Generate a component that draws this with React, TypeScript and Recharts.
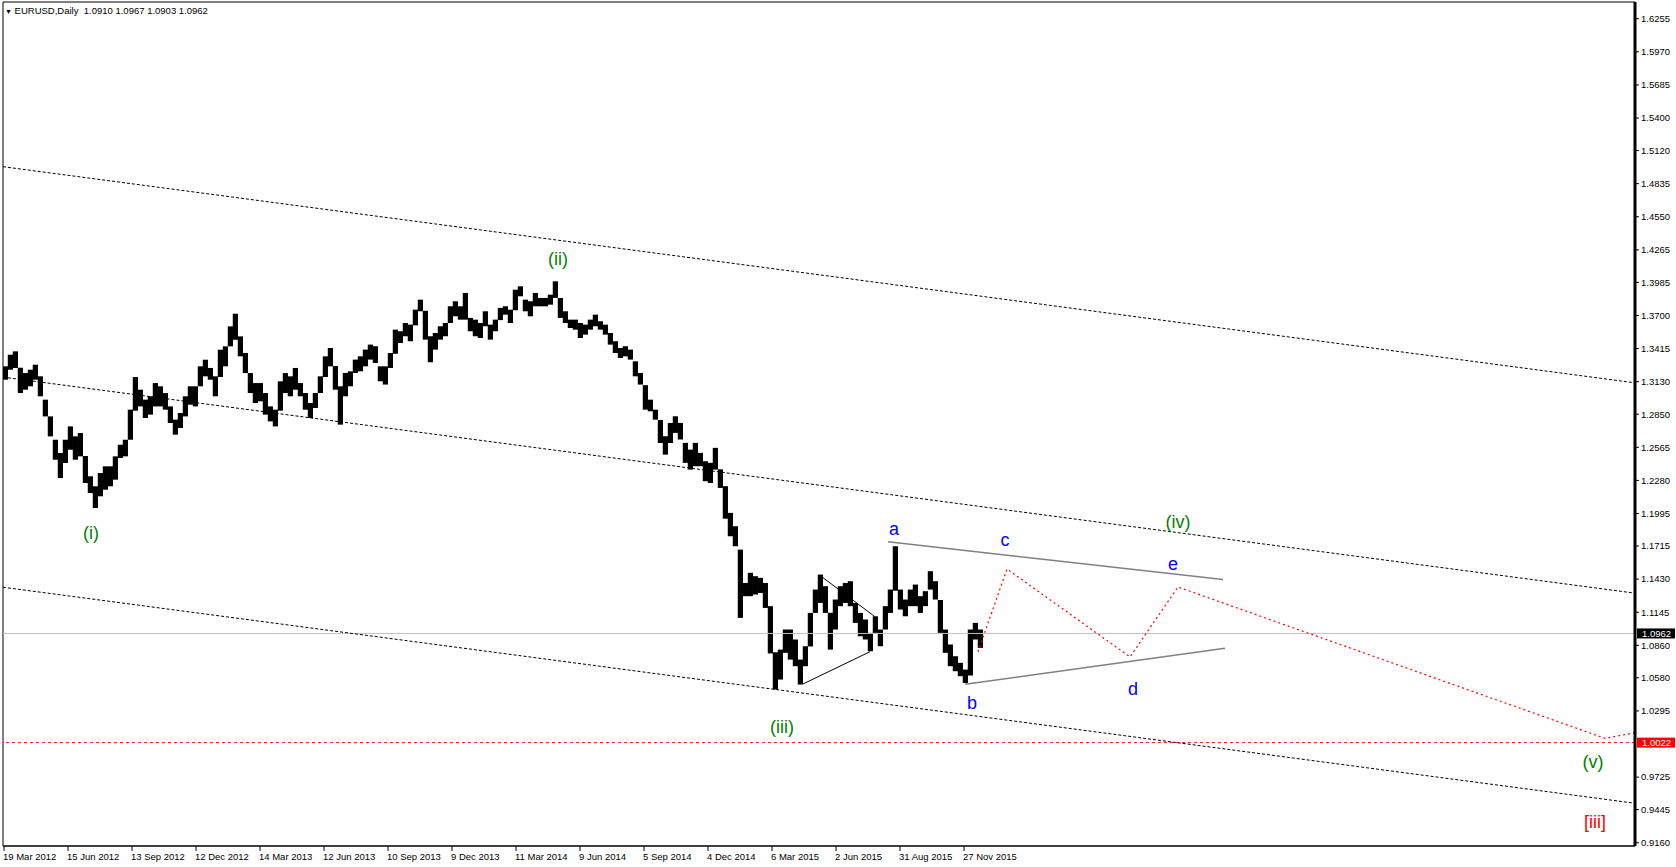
import React from 'react';
import { ComposedChart, Bar, Line, XAxis, YAxis, ReferenceLine, ReferenceDot, ReferenceArea } from 'recharts';

const weekHigh = [
  1.3262, 1.3362, 1.3391, 1.3250, 1.3204, 1.3233, 1.3276, 1.3176, 1.2975, 1.2831,
  1.2630, 1.2516, 1.2630, 1.2745, 1.2659, 1.2688, 1.2490, 1.2315, 1.2229, 1.2343,
  1.2401, 1.2401, 1.2487, 1.2587, 1.2630, 1.2889, 1.3170, 1.3061, 1.2975, 1.3004,
  1.3118, 1.3090, 1.3032, 1.2917, 1.2803, 1.2860, 1.3004, 1.3090, 1.3090, 1.3262,
  1.3319, 1.3248, 1.3176, 1.3405, 1.3434, 1.3606, 1.3715, 1.3520, 1.3377, 1.3204,
  1.3118, 1.3118, 1.3032, 1.2917, 1.2889, 1.3133, 1.3204, 1.3176, 1.3248, 1.3118,
  1.3032, 1.2946, 1.3032, 1.3176, 1.3348, 1.3420, 1.3265, 1.3090, 1.3205, 1.3219,
  1.3320, 1.3348, 1.3406, 1.3449, 1.3435, 1.3262, 1.3262, 1.3377, 1.3578, 1.3564,
  1.3635, 1.3621, 1.3750, 1.3836, 1.3740, 1.3521, 1.3549, 1.3607, 1.3635, 1.3779,
  1.3822, 1.3779, 1.3894, 1.3679, 1.3664, 1.3635, 1.3736, 1.3621, 1.3664, 1.3765,
  1.3779, 1.3750, 1.3922, 1.3951, 1.3836, 1.3822, 1.3894, 1.3851, 1.3851, 1.3879,
  1.3994, 1.3850, 1.3736, 1.3664, 1.3664, 1.3635, 1.3621, 1.3664, 1.3707, 1.3650,
  1.3621, 1.3549, 1.3478, 1.3420, 1.3435, 1.3406, 1.3305, 1.3205, 1.3100, 1.2975,
  1.2889, 1.2800, 1.2660, 1.2774, 1.2832, 1.2775, 1.2603, 1.2545, 1.2603, 1.2517,
  1.2445, 1.2431, 1.2560, 1.2375, 1.2230, 1.2000, 1.1885, 1.1684, 1.1397, 1.1484,
  1.1455, 1.1441, 1.1397, 1.1197, 1.0800, 1.0823, 1.0996, 1.0996, 1.0910, 1.0737,
  1.0852, 1.1139, 1.1340, 1.1469, 1.1369, 1.1140, 1.1254, 1.1369, 1.1397, 1.1412,
  1.1225, 1.1139, 1.1082, 1.0967, 1.1110, 1.0996, 1.1197, 1.1340, 1.1713, 1.1340,
  1.1254, 1.1340, 1.1383, 1.1283, 1.1326, 1.1498, 1.1412, 1.1250, 1.0996, 1.0867,
  1.0766, 1.0709, 1.0651, 1.0996, 1.1053, 1.0996,
];

const weekLow = [
  1.3147, 1.3233, 1.3248, 1.3032, 1.3061, 1.3090, 1.3147, 1.3004, 1.2831, 1.2659,
  1.2458, 1.2300, 1.2430, 1.2544, 1.2458, 1.2487, 1.2257, 1.2171, 1.2042, 1.2143,
  1.2200, 1.2229, 1.2286, 1.2473, 1.2487, 1.2630, 1.2880, 1.2917, 1.2817, 1.2846,
  1.2917, 1.2917, 1.2889, 1.2774, 1.2674, 1.2731, 1.2831, 1.2932, 1.2917, 1.3090,
  1.3176, 1.3147, 1.3004, 1.3170, 1.3262, 1.3434, 1.3491, 1.3348, 1.3204, 1.3032,
  1.2946, 1.2961, 1.2846, 1.2788, 1.2745, 1.2880, 1.3032, 1.3004, 1.3061, 1.3004,
  1.2889, 1.2817, 1.2903, 1.3032, 1.3170, 1.3262, 1.3061, 1.2760, 1.3004, 1.3090,
  1.3205, 1.3219, 1.3262, 1.3320, 1.3291, 1.3133, 1.3105, 1.3248, 1.3370, 1.3463,
  1.3521, 1.3478, 1.3615, 1.3736, 1.3492, 1.3297, 1.3406, 1.3492, 1.3521, 1.3635,
  1.3693, 1.3664, 1.3664, 1.3564, 1.3521, 1.3506, 1.3607, 1.3492, 1.3564, 1.3660,
  1.3707, 1.3635, 1.3745, 1.3865, 1.3736, 1.3693, 1.3779, 1.3779, 1.3779, 1.3793,
  1.3851, 1.3679, 1.3635, 1.3592, 1.3578, 1.3506, 1.3535, 1.3578, 1.3607, 1.3578,
  1.3535, 1.3449, 1.3377, 1.3334, 1.3348, 1.3320, 1.3176, 1.3105, 1.2889, 1.2875,
  1.2803, 1.2602, 1.2502, 1.2602, 1.2689, 1.2632, 1.2431, 1.2373, 1.2402, 1.2402,
  1.2273, 1.2258, 1.2373, 1.2215, 1.1950, 1.1799, 1.1713, 1.1096, 1.1283, 1.1283,
  1.1297, 1.1311, 1.1182, 1.0790, 1.0479, 1.0565, 1.0795, 1.0737, 1.0680, 1.0522,
  1.0680, 1.0850, 1.1139, 1.1225, 1.1139, 1.0823, 1.0996, 1.1197, 1.1225, 1.1197,
  1.1053, 1.0938, 1.0910, 1.0809, 1.0967, 1.0852, 1.0996, 1.1139, 1.1330, 1.1168,
  1.1110, 1.1197, 1.1197, 1.1139, 1.1197, 1.1340, 1.1254, 1.0967, 1.0795, 1.0680,
  1.0637, 1.0594, 1.0536, 1.0600, 1.0910, 1.0838,
];

const dateLabels = [
  '19 Mar 2012', '15 Jun 2012', '13 Sep 2012', '12 Dec 2012', '14 Mar 2013', '12 Jun 2013',
  '10 Sep 2013', '9 Dec 2013', '11 Mar 2014', '9 Jun 2014', '5 Sep 2014', '4 Dec 2014',
  '6 Mar 2015', '2 Jun 2015', '31 Aug 2015', '27 Nov 2015',
];
// trading-day index of each date label
const dateTickDays = [1, 65, 129, 193, 257, 321, 385, 449, 513, 577, 641, 705, 769, 833, 897, 961];

const priceTicks = [
  1.6255, 1.5970, 1.5685, 1.5400, 1.5120, 1.4835, 1.4550, 1.4265, 1.3985, 1.3700,
  1.3415, 1.3130, 1.2850, 1.2565, 1.2280, 1.1995, 1.1715, 1.1430, 1.1145, 1.0860,
  1.0580, 1.0295, 0.9725, 0.9445, 0.9160,
];

const lastPrice = 1.0962;
const targetPrice = 1.0022;
const titleOHLC = [1.0910, 1.0967, 1.0903, 1.0962];

// projected path c-d-e-(v)
const forecastDays = [975, 1004, 1127, 1175, 1602, 1632];
const forecastPrices = [1.0805, 1.1517, 1.0760, 1.1362, 1.0059, 1.0107];

// dotted channel lines: [day1, price1, day2, price2]
const channelLines = [
  [0, 1.4981, 1632, 1.3120],
  [0, 1.3169, 1632, 1.1309],
  [0, 1.1360, 1632, 0.9500],
];
// triangle (gray) and small wedge (black)
const triangleLines = [
  [885, 1.1752, 1220, 1.1426],
  [962, 1.0524, 1222, 1.0835],
];
const wedgeLines = [
  [820, 1.1442, 872, 1.1106],
  [800, 1.0527, 867, 1.0805],
];

const waveText = ['(i)', '(ii)', '(iii)', '(iv)', '(v)'];
const waveDays = [88, 555, 779, 1175, 1590];
const wavePrices = [1.1827, 1.4192, 1.0159, 1.1924, 0.9858];

const subText = ['a', 'b', 'c', 'd', 'e'];
const subDays = [891, 969, 1002, 1130, 1170];
const subPrices = [1.1866, 1.0366, 1.1766, 1.0489, 1.1565];

const degreeText = '[iii]';
const degreeDay = 1592;
const degreePrice = 0.9339;

const FONT = "'Liberation Sans', Arial, sans-serif";
const Y_MIN = 0.9132;
const Y_MAX = 1.6399;
const LAST_DAY = 1632;

const bars = weekHigh.map((h, i) => ({ day: i * 5 + 2.5, range: [weekLow[i], h] }));
const forecast = forecastDays.map((d, i) => ({ day: d, price: forecastPrices[i] }));

// one solid block per week, 5 trading days (5px) wide, centred on its day
const WeekBlock = (props: any) => {
  const { x, y, width, height } = props;
  if (![x, y, width, height].every((v) => Number.isFinite(v))) return null;
  const cx = x + width / 2;
  return <rect x={cx - 2.6} y={y} width={5.2} height={Math.max(height, 1)} fill="#000" />;
};

const DateTick = (props: any) => {
  const { x, y, payload } = props;
  const i = dateTickDays.indexOf(payload.value);
  return (
    <text x={x - 1} y={y} dy="0.71em" textAnchor="start" fontSize={9.5} fontFamily={FONT} fill="#000">
      {dateLabels[i]}
    </text>
  );
};

const PriceTick = (props: any) => {
  const { x, y, payload } = props;
  return (
    <text x={x} y={y} dy="0.35em" textAnchor="start" fontSize={9.5} fontFamily={FONT} fill="#000">
      {payload.value.toFixed(4)}
    </text>
  );
};

const PriceBox = (props: any) => {
  const { viewBox, text, bg } = props;
  const x = viewBox.x + viewBox.width + 2;
  const y = viewBox.y;
  return (
    <g>
      <rect x={x} y={y - 5} width={38} height={10} fill={bg} />
      <text x={x + 5} y={y} dy="0.35em" fontSize={9.5} fontFamily={FONT} fill="#fff">{text}</text>
    </g>
  );
};

export default function App() {
  return (
    <div style={{ position: 'absolute', left: 0, top: 0, width: 1676, height: 867, background: '#fff' }}>
      <ComposedChart width={1676} height={867} data={bars} margin={{ top: 2, right: 0, bottom: 0, left: 3 }}>
        <XAxis
          type="number"
          dataKey="day"
          domain={[0, LAST_DAY]}
          allowDataOverflow
          ticks={dateTickDays}
          interval={0}
          tick={<DateTick />}
          tickSize={5}
          tickLine={{ stroke: '#000' }}
          axisLine={{ stroke: '#000' }}
          height={21}
        />
        <YAxis
          orientation="right"
          type="number"
          domain={[Y_MIN, Y_MAX]}
          allowDataOverflow
          ticks={priceTicks}
          interval={0}
          tick={<PriceTick />}
          tickSize={4}
          tickMargin={2}
          tickLine={{ stroke: '#000' }}
          axisLine={{ stroke: '#000', strokeWidth: 3 }}
          width={41}
        />
        <ReferenceArea x1={0} x2={LAST_DAY} y1={Y_MIN} y2={Y_MAX} fill="none" stroke="#000" strokeWidth={1} />
        <ReferenceLine y={lastPrice} stroke="#c0c0c0" label={<PriceBox text={lastPrice.toFixed(4)} bg="#000" />} />
        <ReferenceLine y={targetPrice} stroke="#ff0000" strokeDasharray="3 3" label={<PriceBox text={targetPrice.toFixed(4)} bg="#ff0000" />} />
        <Bar dataKey="range" fill="#000" barSize={5} shape={<WeekBlock />} isAnimationActive={false} />
        {channelLines.map((l, i) => (
          <ReferenceLine key={`ch${i}`} segment={[{ x: l[0], y: l[1] }, { x: l[2], y: l[3] }]} stroke="#000" strokeDasharray="3 2" />
        ))}
        {triangleLines.map((l, i) => (
          <ReferenceLine key={`tr${i}`} segment={[{ x: l[0], y: l[1] }, { x: l[2], y: l[3] }]} stroke="#808080" strokeWidth={1.5} />
        ))}
        {wedgeLines.map((l, i) => (
          <ReferenceLine key={`wd${i}`} segment={[{ x: l[0], y: l[1] }, { x: l[2], y: l[3] }]} stroke="#000" strokeWidth={1} />
        ))}
        <Line data={forecast} dataKey="price" type="linear" stroke="#ff0000" strokeWidth={1.2} strokeDasharray="2 3" dot={false} isAnimationActive={false} />
        {waveText.map((t, i) => (
          <ReferenceDot key={`w${i}`} x={waveDays[i]} y={wavePrices[i]} r={0} stroke="none" fill="none"
            label={{ value: t, position: 'center', fill: '#008000', fontSize: 18, fontFamily: FONT }} />
        ))}
        {subText.map((t, i) => (
          <ReferenceDot key={`s${i}`} x={subDays[i]} y={subPrices[i]} r={0} stroke="none" fill="none"
            label={{ value: t, position: 'center', fill: '#0000ff', fontSize: 18, fontFamily: FONT }} />
        ))}
        <ReferenceDot x={degreeDay} y={degreePrice} r={0} stroke="none" fill="none"
          label={{ value: degreeText, position: 'center', fill: '#ff0000', fontSize: 18, fontFamily: FONT }} />
      </ComposedChart>
      <div style={{ position: 'absolute', left: 5, top: 5, fontFamily: FONT, fontSize: 9.5, color: '#000', whiteSpace: 'pre', lineHeight: '12px' }}>
        <span style={{ fontSize: 7 }}>▼</span> EURUSD,Daily  {titleOHLC.map((v) => v.toFixed(4)).join(' ')}
      </div>
    </div>
  );
}
